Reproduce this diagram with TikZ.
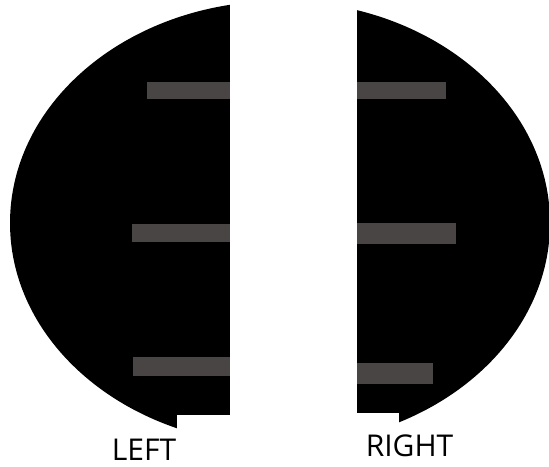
\documentclass[tikz,border=0pt]{standalone}
\usepackage{fontspec}
\setmainfont{Open Sans}
\definecolor{bargray}{RGB}{74,69,69}
\tikzset{
  bar/.style={fill=bargray,draw=none},
  gap/.style={fill=white,draw=none},
  side label/.style={font=\fontsize{30}{32}\selectfont,anchor=base,inner sep=0pt,text depth=0pt}
}
\begin{document}
\begin{tikzpicture}[x=1pt,y=-1pt]
\useasboundingbox (0,0) rectangle (549,466);
% body
\begin{scope}
\clip (0,0) rectangle (549,466);
\fill[black] (280,223) ellipse [x radius=270, y radius=222];
\end{scope}
% middle band and the two notches at the bottom
\fill[gap] (230,-1) rectangle (357,467);
\fill[gap] (177,415) rectangle (230,467);
\fill[gap] (357,413) rectangle (399,467);
% bars, left side
\fill[bar] (147,82) rectangle (230,99);
\fill[bar] (132,224) rectangle (230,242);
\fill[bar] (133,357) rectangle (230,376);
% bars, right side
\fill[bar] (357,82) rectangle (446,99);
\fill[bar] (357,223) rectangle (456,244);
\fill[bar] (357,363) rectangle (433,384);
% labels
\node[side label] (left) at (144,460) {LEFT};
\node[side label] (right) at (409.5,456.5) {RIGHT};
\end{tikzpicture}
\end{document}
